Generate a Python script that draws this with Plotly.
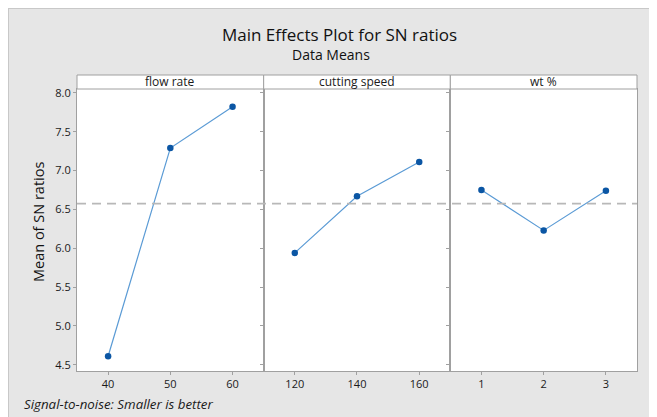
"""
Main effects plot for SN ratios (Minitab style) recreated with Plotly
"""

import numpy as np
import plotly.graph_objects as go
from plotly.subplots import make_subplots

# Factor levels and mean SN ratios
factor_names = ['flow rate', 'cutting speed', 'wt %']

flow_rate_levels = [40, 50, 60]
flow_rate_sn = [4.61, 7.29, 7.82]

cutting_speed_levels = [120, 140, 160]
cutting_speed_sn = [5.94, 6.67, 7.11]

wt_levels = [1, 2, 3]
wt_sn = [6.75, 6.23, 6.74]

y_ticks = [4.5, 5.0, 5.5, 6.0, 6.5, 7.0, 7.5, 8.0]

COLORS = {
    'panel_bg': '#e6e6e6',
    'frame': '#a0a0a0',
    'line': '#5b9bd5',
    'marker': '#0b56a4',
    'ref': '#b8b8b8',
    'text': '#1a1a1a',
}

FONT = 'Open Sans'

# page body adds an 8px offset, positions below are in screen pixels
OFF = 8
W, H = 657, 417
M_L, M_R, M_T, M_B = 69, 28, 81, 54
PW = W - M_L - M_R
PH = H - M_T - M_B


def px_x(x):
    return (x - OFF - M_L) / PW


def px_y(y):
    return (H - M_B - (y - OFF)) / PH


factors = [
    (flow_rate_levels, flow_rate_sn, [35, 65]),
    (cutting_speed_levels, cutting_speed_sn, [110, 170]),
    (wt_levels, wt_sn, [0.5, 3.5]),
]

grand_mean = np.mean(flow_rate_sn + cutting_speed_sn + wt_sn)

fig = make_subplots(rows=1, cols=3, shared_yaxes=True, horizontal_spacing=0)

for i, (levels, sn, xr) in enumerate(factors, start=1):
    fig.add_trace(go.Scatter(
        x=levels,
        y=sn,
        mode='lines+markers',
        line=dict(color=COLORS['line'], width=1.2),
        marker=dict(color=COLORS['marker'], size=6.5),
        showlegend=False,
        hovertemplate=factor_names[i - 1] + ' %{x}<br>SN: %{y:.3f}<extra></extra>'
    ), row=1, col=i)
    fig.update_xaxes(
        range=xr,
        tickvals=levels,
        ticks='outside', ticklen=3, tickcolor=COLORS['frame'],
        showline=True, mirror=True, linecolor=COLORS['frame'], linewidth=1,
        showgrid=False, zeroline=False,
        tickfont=dict(size=11, color=COLORS['text'], family=FONT),
        row=1, col=i
    )

fig.update_yaxes(
    range=[4.42, 8.05],
    tickvals=y_ticks,
    tickformat='.1f',
    ticks='outside', ticklen=3, tickcolor=COLORS['frame'],
    showline=True, mirror=True, linecolor=COLORS['frame'], linewidth=1,
    showgrid=False, zeroline=False,
    tickfont=dict(size=11, color=COLORS['text'], family=FONT),
)

# Grand mean reference line across all panels
fig.add_shape(type='line', xref='paper', yref='y', x0=0, x1=1,
              y0=grand_mean, y1=grand_mean,
              line=dict(color=COLORS['ref'], width=1.8, dash='9px,6px'))

# thin border of the gray frame
fig.add_shape(type='line', xref='paper', yref='paper', layer='below',
              x0=px_x(8.5), x1=px_x(8.5), y0=px_y(H + 20), y1=px_y(8),
              line=dict(color='#c8c8c8', width=1))
fig.add_shape(type='line', xref='paper', yref='paper', layer='below',
              x0=px_x(8), x1=px_x(W + 20), y0=px_y(8.5), y1=px_y(8.5),
              line=dict(color='#c8c8c8', width=1))

# Strip headers
strip_top = px_y(75)
for i, name in enumerate(factor_names):
    dom = fig.layout['xaxis' if i == 0 else f'xaxis{i + 1}'].domain
    fig.add_shape(type='rect', xref='paper', yref='paper',
                  x0=dom[0], x1=dom[1], y0=1, y1=strip_top,
                  fillcolor='white', line=dict(color=COLORS['frame'], width=1))
    fig.add_annotation(x=(dom[0] + dom[1]) / 2, y=(1 + strip_top) / 2,
                       xref='paper', yref='paper', text=name, showarrow=False,
                       xanchor='center', yanchor='middle',
                       font=dict(size=12, color=COLORS['text'], family=FONT))

# y axis title, centred on panels + strips
fig.add_annotation(x=px_x(38), y=px_y(222), xref='paper', yref='paper',
                   xanchor='center', yanchor='middle', textangle=-90,
                   text='Mean of SN ratios', showarrow=False,
                   font=dict(size=14.5, color='#111111', family=FONT))

fig.add_annotation(x=px_x(339), y=px_y(34), xref='paper', yref='paper',
                   xanchor='center', yanchor='middle',
                   text='Main Effects Plot for SN ratios', showarrow=False,
                   font=dict(size=17, color='#111111', family=FONT))
fig.add_annotation(x=px_x(331), y=px_y(55), xref='paper', yref='paper',
                   xanchor='center', yanchor='middle',
                   text='Data Means', showarrow=False,
                   font=dict(size=14, color='#111111', family=FONT))
fig.add_annotation(x=px_x(22), y=px_y(404), xref='paper', yref='paper',
                   xanchor='left', yanchor='middle',
                   text='<i>Signal-to-noise: Smaller is better</i>',
                   showarrow=False,
                   font=dict(size=13.3, color=COLORS['text'], family=FONT))

fig.update_layout(
    width=W,
    height=H,
    margin=dict(l=M_L, r=M_R, t=M_T, b=M_B),
    paper_bgcolor=COLORS['panel_bg'],
    plot_bgcolor='white',
    font=dict(family=FONT, color=COLORS['text']),
)

fig.write_html("out.html")
